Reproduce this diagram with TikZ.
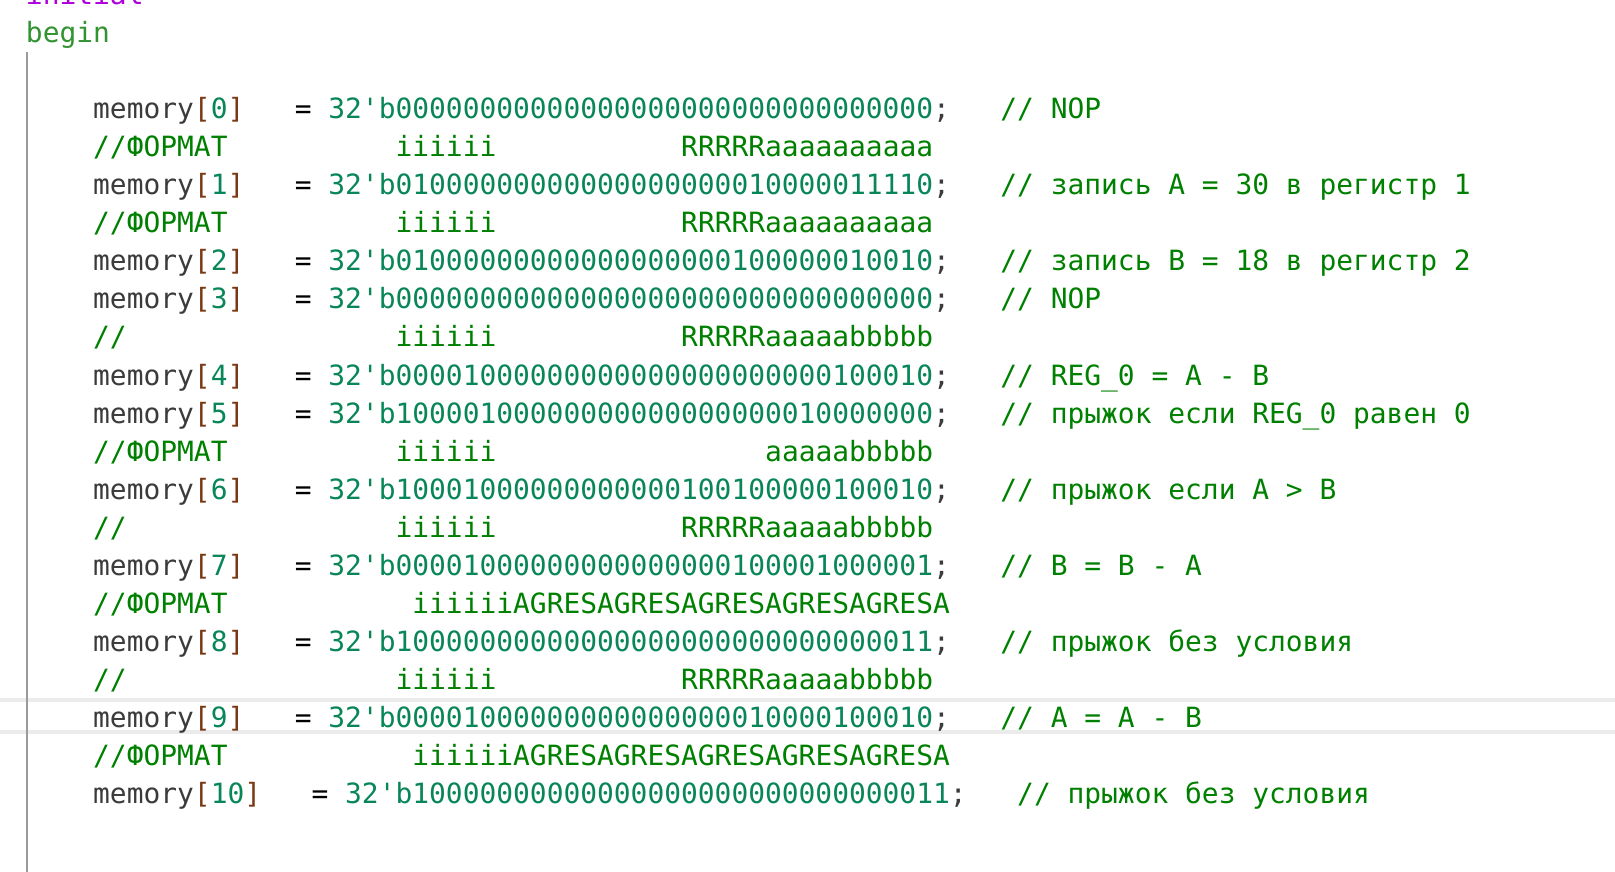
\documentclass[tikz,border=0pt]{standalone}
\usepackage{fontspec}
\newfontfamily\codefont{DejaVu Sans Mono}[Ligatures=TeXOff]
\usepackage{xcolor}
\definecolor{vskeyword}{HTML}{AF00DB}
\definecolor{vsblock}{HTML}{319331}
\definecolor{vsvar}{HTML}{3B3B3B}
\definecolor{vsbracket}{HTML}{7B3814}
\definecolor{vsnumber}{HTML}{098658}
\definecolor{vscomment}{HTML}{008000}
\definecolor{vsguide}{HTML}{9A9A9A}
\definecolor{vscurline}{HTML}{EBEBEB}
\usepackage{tikz}
\newcommand{\memcell}[1]{\textcolor{vsvar}{memory}\textcolor{vsbracket}{[}\textcolor{vsnumber}{#1}\textcolor{vsbracket}{]}}
\newcommand{\bitval}[1]{\textcolor{vsnumber}{32'b#1}\textcolor{vsvar}{;}}
\tikzset{
  code/.style={anchor=base west, inner sep=0pt, font=\codefont\fontsize{27.9pt}{38pt}\selectfont},
  cmt/.style={code, text=vscomment},
  op/.style={code, text=black},
  guide/.style={draw=vsguide, line width=2.2pt},
}
\begin{document}
\begin{tikzpicture}[x=16.8pt, y=-38pt]
    \useasboundingbox (-93pt,119pt) rectangle (1522pt,-753pt);
    % current line marker (memory[9])
    \fill[vscurline] (-93pt,-579pt) rectangle (1522pt,-583pt);
    \fill[vscurline] (-93pt,-611pt) rectangle (1522pt,-615pt);
    % indent guide
    \draw[guide] (-66pt,67pt) -- (-66pt,-753pt);
    % block header
    \node[code, text=vskeyword] (init)  at (-4,-3) {initial};
    \node[code, text=vsblock]   (begin) at (-4,-2) {begin};
    % memory[0]
    \node[code] (m0) at (0,0)  {\memcell{0}};
    \node[op]   (e0) at (12,0) {=};
    \node[code] (v0) at (14,0) {\bitval{00000000000000000000000000000000}};
    \node[cmt]  (c0) at (54,0) {// NOP};
    \node[cmt] (f1) at (0,1)  {//ФОРМАТ};
    \node[cmt] (i1) at (18,1) {iiiiii};
    \node[cmt] (r1) at (35,1) {RRRRRaaaaaaaaaa};
    % memory[1]
    \node[code] (m1) at (0,2)  {\memcell{1}};
    \node[op]   (e1) at (12,2) {=};
    \node[code] (v1) at (14,2) {\bitval{01000000000000000000010000011110}};
    \node[cmt]  (c1) at (54,2) {// запись A = 30 в регистр 1};
    \node[cmt] (f3) at (0,3)  {//ФОРМАТ};
    \node[cmt] (i3) at (18,3) {iiiiii};
    \node[cmt] (r3) at (35,3) {RRRRRaaaaaaaaaa};
    % memory[2], memory[3]
    \node[code] (m2) at (0,4)  {\memcell{2}};
    \node[op]   (e2) at (12,4) {=};
    \node[code] (v2) at (14,4) {\bitval{01000000000000000000100000010010}};
    \node[cmt]  (c2) at (54,4) {// запись B = 18 в регистр 2};
    \node[code] (m3) at (0,5)  {\memcell{3}};
    \node[op]   (e3) at (12,5) {=};
    \node[code] (v3) at (14,5) {\bitval{00000000000000000000000000000000}};
    \node[cmt]  (c3) at (54,5) {// NOP};
    \node[cmt] (f6) at (0,6)  {//};
    \node[cmt] (i6) at (18,6) {iiiiii};
    \node[cmt] (r6) at (35,6) {RRRRRaaaaabbbbb};
    % memory[4], memory[5]
    \node[code] (m4) at (0,7)  {\memcell{4}};
    \node[op]   (e4) at (12,7) {=};
    \node[code] (v4) at (14,7) {\bitval{00001000000000000000000000100010}};
    \node[cmt]  (c4) at (54,7) {// REG\_0 = A - B};
    \node[code] (m5) at (0,8)  {\memcell{5}};
    \node[op]   (e5) at (12,8) {=};
    \node[code] (v5) at (14,8) {\bitval{10000100000000000000000010000000}};
    \node[cmt]  (c5) at (54,8) {// прыжок если REG\_0 равен 0};
    \node[cmt] (f9) at (0,9)  {//ФОРМАТ};
    \node[cmt] (i9) at (18,9) {iiiiii};
    \node[cmt] (r9) at (40,9) {aaaaabbbbb};
    % memory[6]
    \node[code] (m6) at (0,10)  {\memcell{6}};
    \node[op]   (e6) at (12,10) {=};
    \node[code] (v6) at (14,10) {\bitval{10001000000000000100100000100010}};
    \node[cmt]  (c6) at (54,10) {// прыжок если A > B};
    \node[cmt] (f11) at (0,11)  {//};
    \node[cmt] (i11) at (18,11) {iiiiii};
    \node[cmt] (r11) at (35,11) {RRRRRaaaaabbbbb};
    % memory[7]
    \node[code] (m7) at (0,12)  {\memcell{7}};
    \node[op]   (e7) at (12,12) {=};
    \node[code] (v7) at (14,12) {\bitval{00001000000000000000100001000001}};
    \node[cmt]  (c7) at (54,12) {// B = B - A};
    \node[cmt] (f13) at (0,13)  {//ФОРМАТ};
    \node[cmt] (i13) at (19,13) {iiiiiiAGRESAGRESAGRESAGRESAGRESA};
    % memory[8]
    \node[code] (m8) at (0,14)  {\memcell{8}};
    \node[op]   (e8) at (12,14) {=};
    \node[code] (v8) at (14,14) {\bitval{10000000000000000000000000000011}};
    \node[cmt]  (c8) at (54,14) {// прыжок без условия};
    \node[cmt] (f15) at (0,15)  {//};
    \node[cmt] (i15) at (18,15) {iiiiii};
    \node[cmt] (r15) at (35,15) {RRRRRaaaaabbbbb};
    % memory[9]
    \node[code] (m9) at (0,16)  {\memcell{9}};
    \node[op]   (e9) at (12,16) {=};
    \node[code] (v9) at (14,16) {\bitval{00001000000000000000010000100010}};
    \node[cmt]  (c9) at (54,16) {// A = A - B};
    \node[cmt] (f17) at (0,17)  {//ФОРМАТ};
    \node[cmt] (i17) at (19,17) {iiiiiiAGRESAGRESAGRESAGRESAGRESA};
    % memory[10]
    \node[code] (m10) at (0,18)  {\memcell{10}};
    \node[op]   (e10) at (13,18) {=};
    \node[code] (v10) at (15,18) {\bitval{10000000000000000000000000000011}};
    \node[cmt]  (c10) at (55,18) {// прыжок без условия};
\end{tikzpicture}
\end{document}
